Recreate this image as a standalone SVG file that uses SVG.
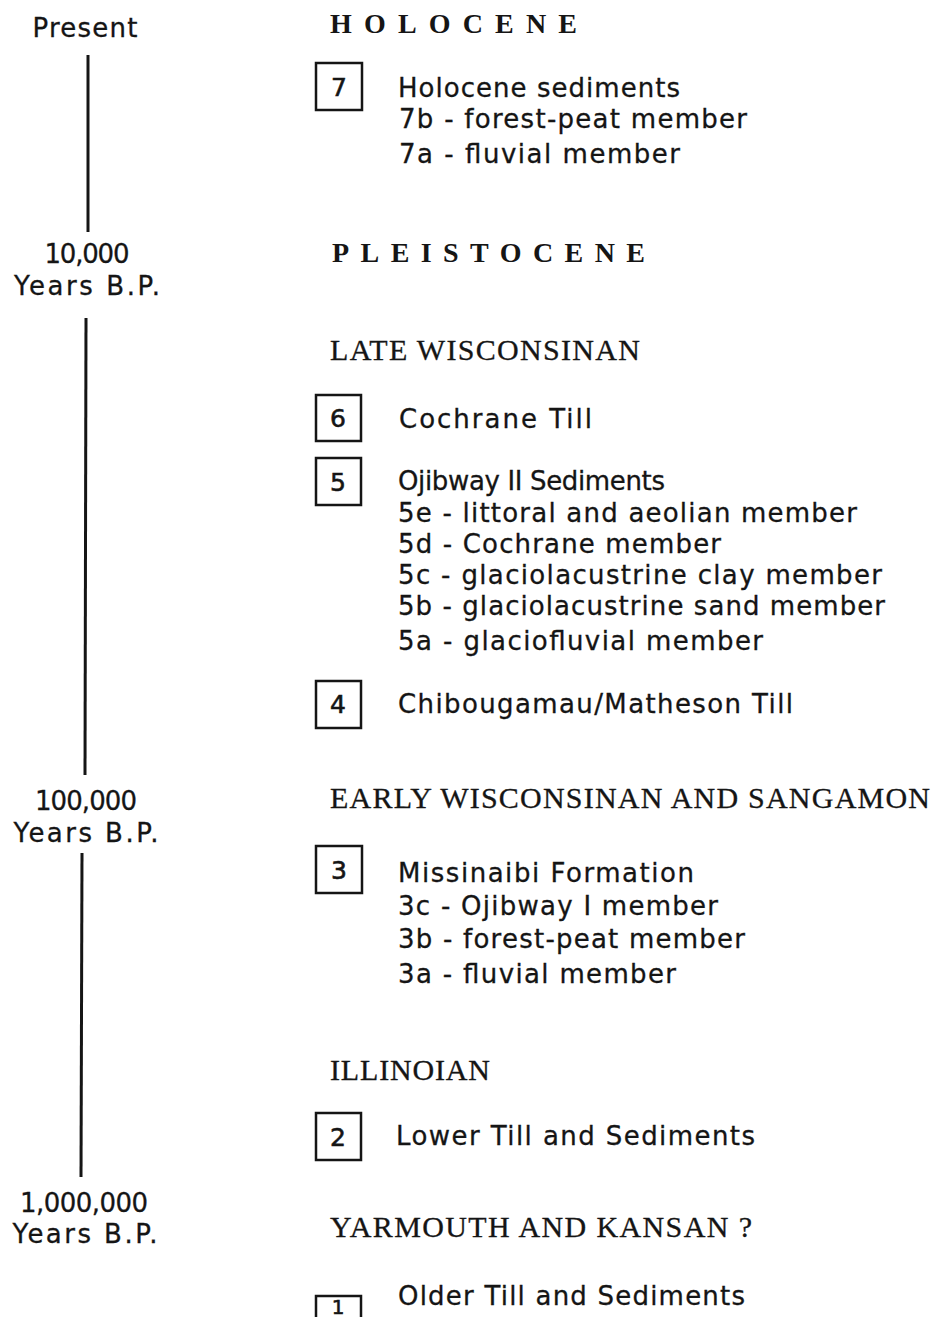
<svg xmlns="http://www.w3.org/2000/svg" width="936" height="1317" viewBox="0 0 936 1317">
<style>
.b{font-family:"DejaVu Sans","Liberation Sans",sans-serif;font-size:26px;fill:#151515;stroke:#151515;stroke-width:0.3}
.l{font-family:"DejaVu Sans","Liberation Sans",sans-serif;font-size:26px;fill:#151515;stroke:#151515;stroke-width:0.3;text-anchor:middle}
.h{font-family:"Liberation Serif",serif;font-size:30px;fill:#151515;stroke:#151515;stroke-width:0.3}
.e{font-family:"Liberation Serif",serif;font-size:28px;font-weight:bold;fill:#151515}
.bx{fill:none;stroke:#151515;stroke-width:2.5}
.n{font-family:"DejaVu Sans","Liberation Sans",sans-serif;font-size:25px;fill:#151515;stroke:#151515;stroke-width:0.6;text-anchor:middle}
.ax{stroke:#151515;stroke-width:3;fill:none}
</style>
<rect width="936" height="1317" fill="#fff"/>

<g id="timeline">
  <line class="ax" x1="88" y1="55" x2="88" y2="232"/>
  <line class="ax" x1="86" y1="318" x2="85" y2="775"/>
  <line class="ax" x1="82" y1="853" x2="81" y2="1177"/>
</g>

<g id="time-labels">
  <text class="l" x="85" y="37" textLength="105" lengthAdjust="spacing">Present</text>
  <text class="l" x="87" y="263" textLength="85" lengthAdjust="spacing">10,000</text>
  <text class="l" x="87" y="295" textLength="146" lengthAdjust="spacing">Years B.P.</text>
  <text class="l" x="86" y="810" textLength="102" lengthAdjust="spacing">100,000</text>
  <text class="l" x="86" y="842" textLength="145" lengthAdjust="spacing">Years B.P.</text>
  <text class="l" x="84" y="1212" textLength="128" lengthAdjust="spacing">1,000,000</text>
  <text class="l" x="85" y="1243" textLength="145" lengthAdjust="spacing">Years B.P.</text>
</g>

<g id="headings">
  <text class="e" x="330" y="33" textLength="247" lengthAdjust="spacing">HOLOCENE</text>
  <text class="e" x="332" y="262" textLength="313" lengthAdjust="spacing">PLEISTOCENE</text>
  <text class="h" x="330" y="360" textLength="310" lengthAdjust="spacing">LATE WISCONSINAN</text>
  <text class="h" x="330" y="808" textLength="600" lengthAdjust="spacing">EARLY WISCONSINAN AND SANGAMON</text>
  <text class="h" x="330" y="1080" textLength="160" lengthAdjust="spacing">ILLINOIAN</text>
  <text class="h" x="330" y="1237" textLength="422" lengthAdjust="spacing">YARMOUTH AND KANSAN ?</text>
</g>

<g id="unit-7">
  <rect class="bx" x="316" y="63" width="46" height="47"/>
  <text class="n" x="339" y="96">7</text>
  <text class="b" x="398" y="97" textLength="282" lengthAdjust="spacing">Holocene sediments</text>
  <text class="b" x="399" y="128" textLength="348" lengthAdjust="spacing">7b - forest-peat member</text>
  <text class="b" x="399" y="163" textLength="281" lengthAdjust="spacing">7a - fluvial member</text>
</g>

<g id="unit-6">
  <rect class="bx" x="316" y="395" width="45" height="46"/>
  <text class="n" x="338" y="427">6</text>
  <text class="b" x="399" y="428" textLength="193" lengthAdjust="spacing">Cochrane Till</text>
</g>

<g id="unit-5">
  <rect class="bx" x="316" y="458" width="45" height="47"/>
  <text class="n" x="338" y="491">5</text>
  <text class="b" x="398" y="490" textLength="267" lengthAdjust="spacing">Ojibway II Sediments</text>
  <text class="b" x="398" y="522" textLength="459" lengthAdjust="spacing">5e - littoral and aeolian member</text>
  <text class="b" x="398" y="553" textLength="323" lengthAdjust="spacing">5d - Cochrane member</text>
  <text class="b" x="398" y="584" textLength="484" lengthAdjust="spacing">5c - glaciolacustrine clay member</text>
  <text class="b" x="398" y="615" textLength="487" lengthAdjust="spacing">5b - glaciolacustrine sand member</text>
  <text class="b" x="398" y="650" textLength="365" lengthAdjust="spacing">5a - glaciofluvial member</text>
</g>

<g id="unit-4">
  <rect class="bx" x="316" y="681" width="45" height="47"/>
  <text class="n" x="338" y="713">4</text>
  <text class="b" x="398" y="713" textLength="395" lengthAdjust="spacing">Chibougamau/Matheson Till</text>
</g>

<g id="unit-3">
  <rect class="bx" x="316" y="846" width="46" height="47"/>
  <text class="n" x="339" y="879">3</text>
  <text class="b" x="398" y="882" textLength="296" lengthAdjust="spacing">Missinaibi Formation</text>
  <text class="b" x="398" y="915" textLength="320" lengthAdjust="spacing">3c - Ojibway I member</text>
  <text class="b" x="398" y="948" textLength="347" lengthAdjust="spacing">3b - forest-peat member</text>
  <text class="b" x="398" y="983" textLength="278" lengthAdjust="spacing">3a - fluvial member</text>
</g>

<g id="unit-2">
  <rect class="bx" x="316" y="1113" width="45" height="47"/>
  <text class="n" x="338" y="1146">2</text>
  <text class="b" x="396" y="1145" textLength="359" lengthAdjust="spacing">Lower Till and Sediments</text>
</g>

<g id="unit-1">
  <rect class="bx" x="316" y="1296" width="45" height="47"/>
  <text class="n" x="338" y="1314" style="font-size:20px">1</text>
  <text class="b" x="398" y="1305" textLength="347" lengthAdjust="spacing">Older Till and Sediments</text>
</g>
</svg>
